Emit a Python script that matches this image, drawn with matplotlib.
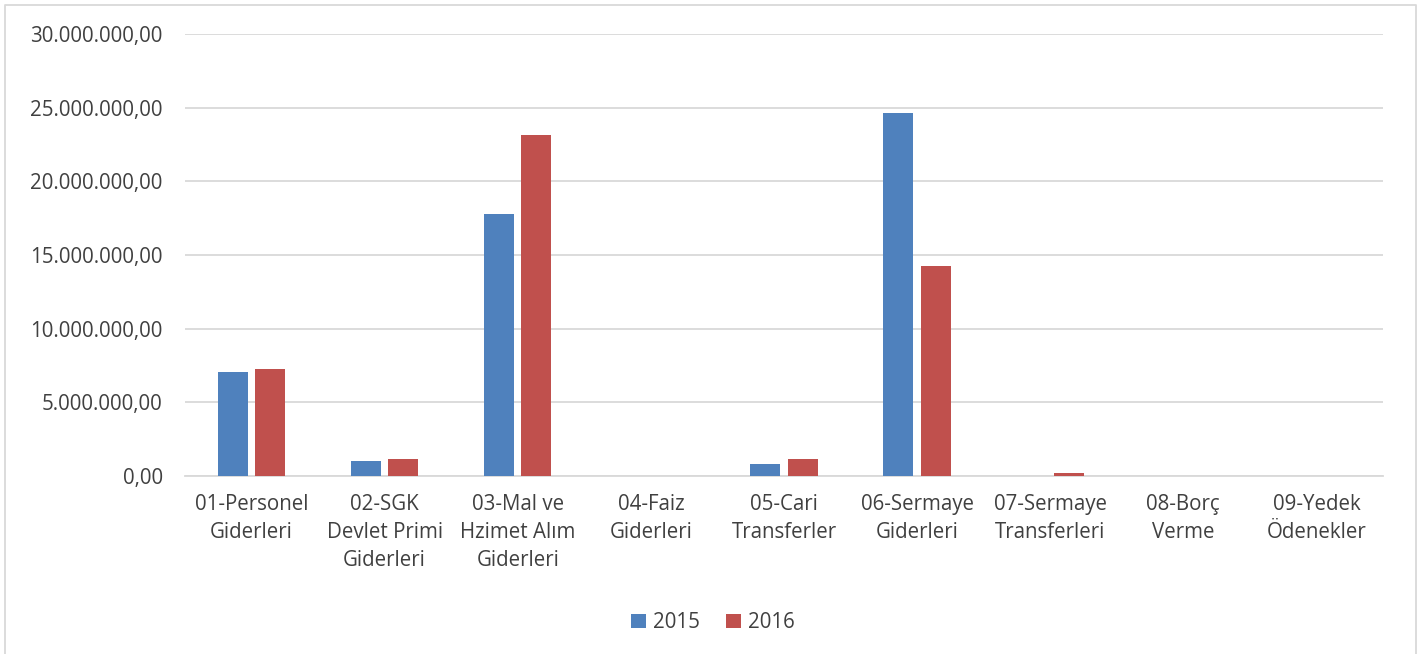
import matplotlib.pyplot as plt
import numpy as np
from matplotlib.ticker import FuncFormatter
from matplotlib.lines import Line2D

plt.rcParams['font.family'] = ['Open Sans', 'DejaVu Sans']

categories = ["01-Personel\nGiderleri", "02-SGK\nDevlet Primi\nGiderleri",
              "03-Mal ve\nHzimet Alım\nGiderleri", "04-Faiz\nGiderleri",
              "05-Cari\nTransferler", "06-Sermaye\nGiderleri",
              "07-Sermaye\nTransferleri", "08-Borç\nVerme", "09-Yedek\nÖdenekler"]
values_2015 = [7060000, 1020000, 17800000, 0, 810000, 24650000, 0, 0, 0]
values_2016 = [7270000, 1150000, 23150000, 0, 1150000, 14260000, 200000, 0, 0]
series_names = ["2015", "2016"]
yticks = [0, 5000000, 10000000, 15000000, 20000000, 25000000, 30000000]


def tr_format(v, pos):
    s = f"{v:,.2f}"
    return s.replace(",", "X").replace(".", ",").replace("X", ".")


fig = plt.figure(figsize=(14.26, 6.54), dpi=100)
ax = fig.add_axes([0.1297, 0.2722, 0.8401, 0.6758])

x = np.arange(len(categories))
w = 0.225
ax.bar(x - 0.14, values_2015, w, color="#4F81BD", label=series_names[0], zorder=3)
ax.bar(x + 0.14, values_2016, w, color="#C0504D", label=series_names[1], zorder=3)

ax.set_xlim(-0.5, len(categories) - 0.5)
ax.set_ylim(0, 30000000)
ax.set_yticks(yticks)
ax.yaxis.set_major_formatter(FuncFormatter(tr_format))
ax.set_xticks(x)
ax.set_xticklabels(categories, fontsize=14.8, color="#404040", linespacing=1.45)
ax.tick_params(axis="y", labelsize=14.8, labelcolor="#404040", length=0, pad=16)
ax.tick_params(axis="x", length=0, pad=13)

ax.grid(axis="y", color="#D9D9D9", linewidth=1.3, zorder=0)
for sp in ["left", "right", "top"]:
    ax.spines[sp].set_visible(False)
ax.spines["bottom"].set_color("#D9D9D9")
ax.spines["bottom"].set_linewidth(1.3)

fig.legend(loc="center", bbox_to_anchor=(0.5, 0.048), ncol=2, frameon=False,
           fontsize=14.8, handlelength=0.7, handleheight=0.7, handletextpad=0.35,
           columnspacing=1.3, labelcolor="#404040")

# outer chart frame
fx0, fy0, fx1 = 5 / 1426, 1 - 5 / 654, 1416 / 1426
fig.add_artist(Line2D([fx0, fx0, fx1, fx1], [0, fy0, fy0, 0], transform=fig.transFigure,
                      color="#D9D9D9", linewidth=1.3))

fig.savefig("out.png", dpi=100)
